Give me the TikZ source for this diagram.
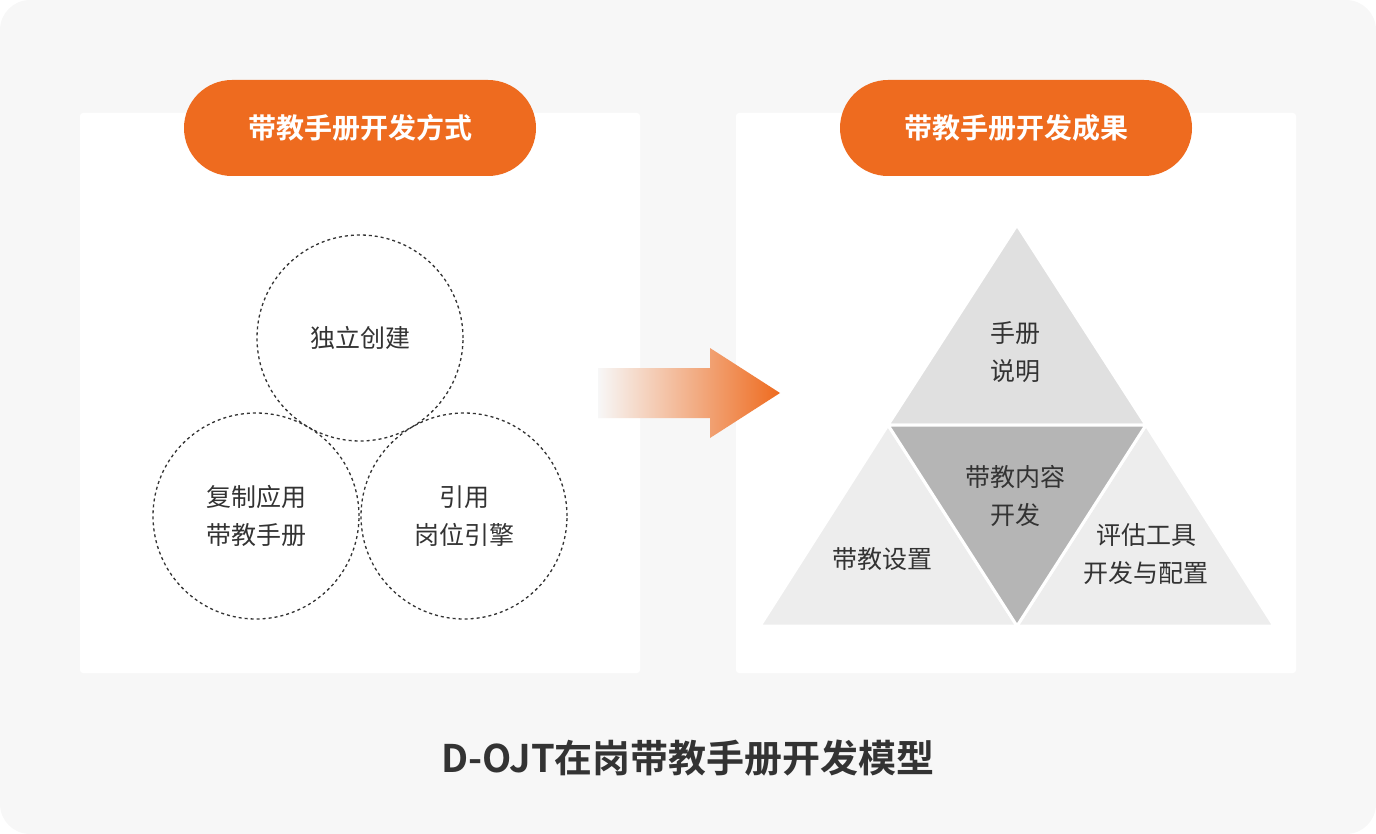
\documentclass[tikz,border=0pt]{standalone}
\usepackage{fontspec}
\setmainfont{Noto Sans CJK SC}[BoldFont={Noto Sans CJK SC Bold}]
\usetikzlibrary{positioning, calc}
\definecolor{bgcol}{HTML}{F7F7F7}
\definecolor{orng}{HTML}{EE6B1F}
\definecolor{txtcol}{HTML}{333333}
\definecolor{trtop}{HTML}{E0E0E0}
\definecolor{trmid}{HTML}{B5B5B5}
\definecolor{trside}{HTML}{EDEDED}
\tikzset{
  pill/.style={rectangle,rounded corners=48pt,fill=orng,text=white,minimum width=352pt,minimum height=96pt,font=\fontsize{28}{30}\selectfont\bfseries},
  panel/.style={fill=white,rounded corners=3pt},
  ring/.style={circle,draw=txtcol,dashed,line width=1.3pt,minimum size=206pt,align=center,font=\fontsize{25}{38}\selectfont,text=txtcol},
  lbl/.style={align=center,font=\fontsize{25}{38}\selectfont,text=txtcol},
  tri/.style={draw=white,line width=3pt,line join=miter}
}
\begin{document}
\begin{tikzpicture}[x=1pt,y=-1pt]
    % Sfondo
    \fill[bgcol,rounded corners=30pt] (0,0) rectangle (1376,834);
    \useasboundingbox (0,0) rectangle (1376,834);
    \fill[panel] (80,113) rectangle (640,673);
    \fill[panel] (736,113) rectangle (1296,673);

    % Titoli
    \node[pill] (modo) at (360,128) {带教手册开发方式};
    \node[pill] (esito) at (1016,128) {带教手册开发成果};

    % Cerchi
    \node[ring] (crea) at (360,338) {独立创建};
    \node[ring] (copia) at (256,516) {复制应用\\带教手册};
    \node[ring] (cita) at (464,516) {引用\\岗位引擎};

    % Freccia
    \path[left color=bgcol,right color=orng] (598,368) -- (710,368) -- (710,348) -- (780,393)
        -- (710,438) -- (710,418) -- (598,418) -- cycle;

    % Triangolo
    \coordinate (apice) at (1017,225);
    \coordinate (sx) at (760,626);
    \coordinate (dx) at (1274,626);
    \coordinate (msx) at (888,425);
    \coordinate (mdx) at (1146,425);
    \coordinate (mbs) at (1017,626);
    \filldraw[tri,fill=trtop] (apice) -- (msx) -- (mdx) -- cycle;
    \filldraw[tri,fill=trside] (msx) -- (sx) -- (mbs) -- cycle;
    \filldraw[tri,fill=trside] (mdx) -- (mbs) -- (dx) -- cycle;
    \filldraw[tri,fill=trmid] (msx) -- (mdx) -- (mbs) -- cycle;
    \node[lbl] (manuale) at (1015,352) {手册\\说明};
    \node[lbl] (contenuto) at (1015,496) {带教内容\\开发};
    \node[lbl] (impost) at (882,559) {带教设置};
    \node[lbl] (valuta) at (1146,554) {评估工具\\开发与配置};

    % Titolo finale
    \node[font=\fontsize{38}{40}\selectfont\bfseries,text=txtcol] (titolo) at (688,758) {D-OJT在岗带教手册开发模型};
\end{tikzpicture}
\end{document}
